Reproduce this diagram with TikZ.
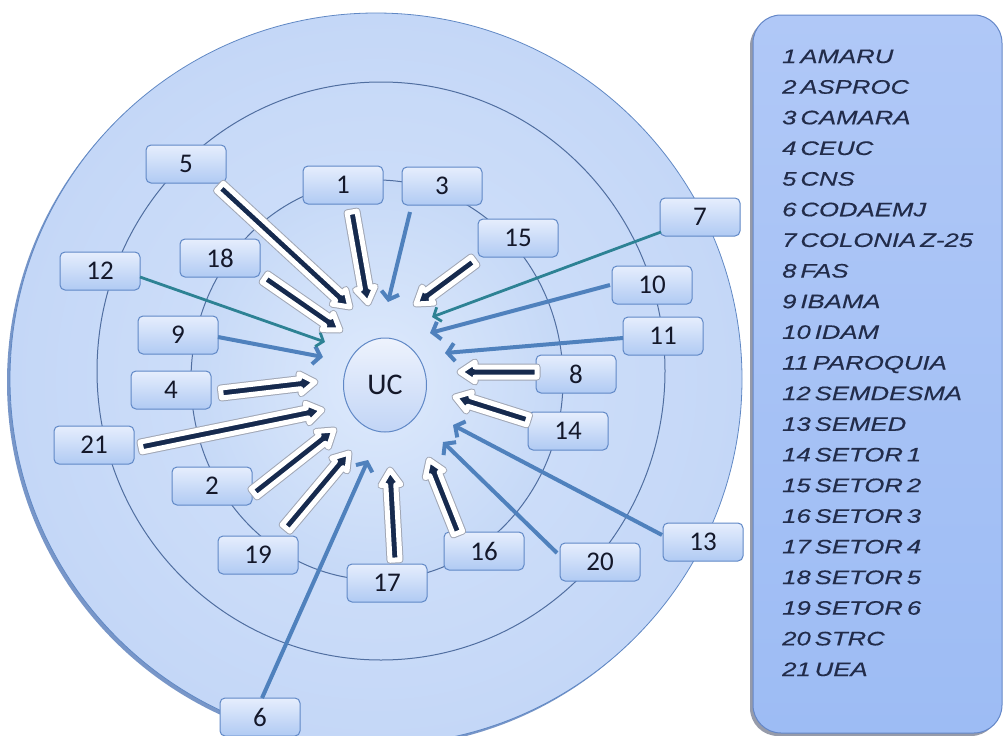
\documentclass[tikz,border=0pt]{standalone}
\usepackage{fontspec}
\setmainfont{Carlito}
\newfontfamily\legendfont[FakeStretch=1.32,WordSpace=0.55,FakeBold=0.4]{Liberation Sans}
\usetikzlibrary{arrows.meta,calc,shapes.geometric}

\definecolor{outerfillA}{RGB}{212,227,251}
\definecolor{outerfillB}{RGB}{196,215,247}
\definecolor{outershadow}{RGB}{120,150,200}
\definecolor{innerglow}{RGB}{222,234,252}
\definecolor{innerfill}{RGB}{198,217,247}
\definecolor{outerline}{RGB}{96,136,196}
\definecolor{ringline}{RGB}{80,110,160}
\definecolor{boxtop}{RGB}{230,238,253}
\definecolor{boxbot}{RGB}{176,202,243}
\definecolor{boxline}{RGB}{96,136,198}
\definecolor{steel}{RGB}{79,129,189}
\definecolor{tealc}{RGB}{45,130,148}
\definecolor{navy}{RGB}{22,42,78}
\definecolor{arrshadow}{RGB}{160,166,180}
\definecolor{legfillA}{RGB}{176,200,247}
\definecolor{legfillB}{RGB}{157,188,244}
\definecolor{legline}{RGB}{100,135,200}
\definecolor{legshadow}{RGB}{150,155,170}
\definecolor{legtext}{RGB}{34,44,74}
\definecolor{txt}{RGB}{20,24,42}
\definecolor{ucA}{RGB}{238,243,253}
\definecolor{ucB}{RGB}{194,213,246}

\newcommand\blockarr[2]{%
  \coordinate (bh) at ($(#2)!15pt!(#1)$);
  \def\arrpath{($(#1)!5pt!90:(#2)$) -- ($(bh)!5pt!90:(#2)$) -- ($(bh)!10pt!90:(#2)$) -- (#2) -- ($(bh)!10pt!-90:(#2)$) -- ($(bh)!5pt!-90:(#2)$) -- ($(#1)!5pt!-90:(#2)$) -- cycle}%
  \draw[line join=round, line width=7pt, draw=arrshadow] \arrpath;
  \filldraw[line join=round, line width=5pt, draw=white, fill=navy] \arrpath;
}

\begin{document}
\begin{tikzpicture}[x=1pt,y=-1pt,
  numbox/.style={draw=boxline, line width=1pt, rounded corners=5pt, top color=boxtop, bottom color=boxbot,
    minimum width=80pt, minimum height=38pt, inner sep=0pt, font=\fontsize{27}{27}\selectfont, text=txt},
  steelarr/.style={draw=steel, line width=4pt, -{Straight Barb[length=7pt,width=18pt]}},
  tealarr/.style={draw=tealc, line width=2.8pt, -{Straight Barb[length=6pt,width=15pt]}},
  legitem/.style={anchor=base west, inner sep=0pt, text=legtext, font=\legendfont\itshape\fontsize{19.5}{19.5}\selectfont}
]
\useasboundingbox (0,0) rectangle (1004,736);
\clip (0,0) rectangle (1004,736);

% rings
\fill[outershadow] (373,382) circle [radius=366];
\shade[inner color=outerfillA, outer color=outerfillB] (376,379) circle [radius=366];
\draw[outerline, line width=0.8pt] (376,379) circle [radius=366];
\draw[ringline, line width=1pt] (381,371) ellipse [x radius=284, y radius=289];
\shade[inner color=innerglow, outer color=innerfill] (377,380) ellipse [x radius=186, y radius=200];
\draw[ringline, line width=1pt] (377,380) ellipse [x radius=186, y radius=200];

% centre
\node[draw=boxline, line width=1pt, ellipse, top color=ucA, bottom color=ucB,
  minimum width=83pt, minimum height=94pt, inner sep=0pt, text=txt, font=\fontsize{30}{30}\selectfont]
  (uc) at (385,385) {UC};

% legend
\fill[legshadow, rounded corners=28pt] (750,18) rectangle (999,736);
\shade[top color=legfillA, bottom color=legfillB, rounded corners=28pt] (753,15) rectangle (1002,733);
\draw[legline, line width=1pt, rounded corners=28pt] (753,15) rectangle (1002,733);
\foreach \t [count=\i] in {1 AMARU,2 ASPROC,3 CAMARA,4 CEUC,5 CNS,6 CODAEMJ,7 COLONIA Z-25,8 FAS,9 IBAMA,10 IDAM,11 PAROQUIA,12 SEMDESMA,13 SEMED,14 SETOR 1,15 SETOR 2,16 SETOR 3,17 SETOR 4,18 SETOR 5,19 SETOR 6,20 STRC,21 UEA}
  \node[legitem] (leg\i) at (782,{63+(\i-1)*30.65}) {\t};

% boxes
\node[numbox] (b1) at (343,185) {1};
\node[numbox] (b2) at (212,486) {2};
\node[numbox] (b3) at (442,186) {3};
\node[numbox] (b4) at (171,390) {4};
\node[numbox] (b5) at (186,164) {5};
\node[numbox] (b6) at (260,717) {6};
\node[numbox] (b7) at (700,217) {7};
\node[numbox] (b8) at (576,374) {8};
\node[numbox] (b9) at (178,335) {9};
\node[numbox] (b10) at (652,285) {10};
\node[numbox] (b11) at (663,336) {11};
\node[numbox] (b12) at (100,271) {12};
\node[numbox] (b13) at (703,542) {13};
\node[numbox] (b14) at (568,431) {14};
\node[numbox] (b15) at (518,238) {15};
\node[numbox] (b16) at (484,551) {16};
\node[numbox] (b17) at (387,583) {17};
\node[numbox] (b18) at (220,258) {18};
\node[numbox] (b19) at (258,555) {19};
\node[numbox] (b20) at (600,562) {20};
\node[numbox] (b21) at (94,445) {21};

% arrow end points
\coordinate (s5) at (220,187);  \coordinate (t5) at (350,307);
\coordinate (s1) at (352,212);  \coordinate (t1) at (368,303);
\coordinate (s15) at (474,261); \coordinate (t15) at (416,304);
\coordinate (s18) at (265,278); \coordinate (t18) at (340,330);
\coordinate (s4) at (221,393);  \coordinate (t4) at (315,382);
\coordinate (s21) at (141,447); \coordinate (t21) at (322,410);
\coordinate (s2) at (254,493);  \coordinate (t2) at (334,430);
\coordinate (s19) at (286,528); \coordinate (t19) at (349,453);
\coordinate (s17) at (395,560); \coordinate (t17) at (390,470);
\coordinate (s16) at (458,533); \coordinate (t16) at (429,460);
\coordinate (s8) at (537,372);  \coordinate (t8) at (460,372);
\coordinate (s14) at (528,420); \coordinate (t14) at (455,397);

\coordinate (s3) at (410,212);  \coordinate (t3) at (388,302);
\coordinate (s10) at (610,285); \coordinate (t10) at (430,333);
\coordinate (s11) at (623,338); \coordinate (t11) at (445,353);
\coordinate (s9) at (218,337);  \coordinate (t9) at (323,357);
\coordinate (s6) at (262,698);  \coordinate (t6) at (368,460);
\coordinate (s20) at (557,553); \coordinate (t20) at (443,442);
\coordinate (s13) at (662,535); \coordinate (t13) at (453,425);
\coordinate (s12) at (140,277); \coordinate (t12) at (325,342);
\coordinate (s7) at (661,232);  \coordinate (t7) at (432,317);

% thin arrows
\draw[steelarr] (s3) -- (t3);
\draw[steelarr] (s10) -- (t10);
\draw[steelarr] (s11) -- (t11);
\draw[steelarr] (s9) -- (t9);
\draw[steelarr] (s6) -- (t6);
\draw[steelarr] (s20) -- (t20);
\draw[steelarr] (s13) -- (t13);
\draw[tealarr] (s12) -- (t12);
\draw[tealarr] (s7) -- (t7);

% block arrows
\blockarr{s5}{t5}
\blockarr{s1}{t1}
\blockarr{s15}{t15}
\blockarr{s18}{t18}
\blockarr{s4}{t4}
\blockarr{s21}{t21}
\blockarr{s2}{t2}
\blockarr{s19}{t19}
\blockarr{s17}{t17}
\blockarr{s16}{t16}
\blockarr{s8}{t8}
\blockarr{s14}{t14}
\end{tikzpicture}
\end{document}
